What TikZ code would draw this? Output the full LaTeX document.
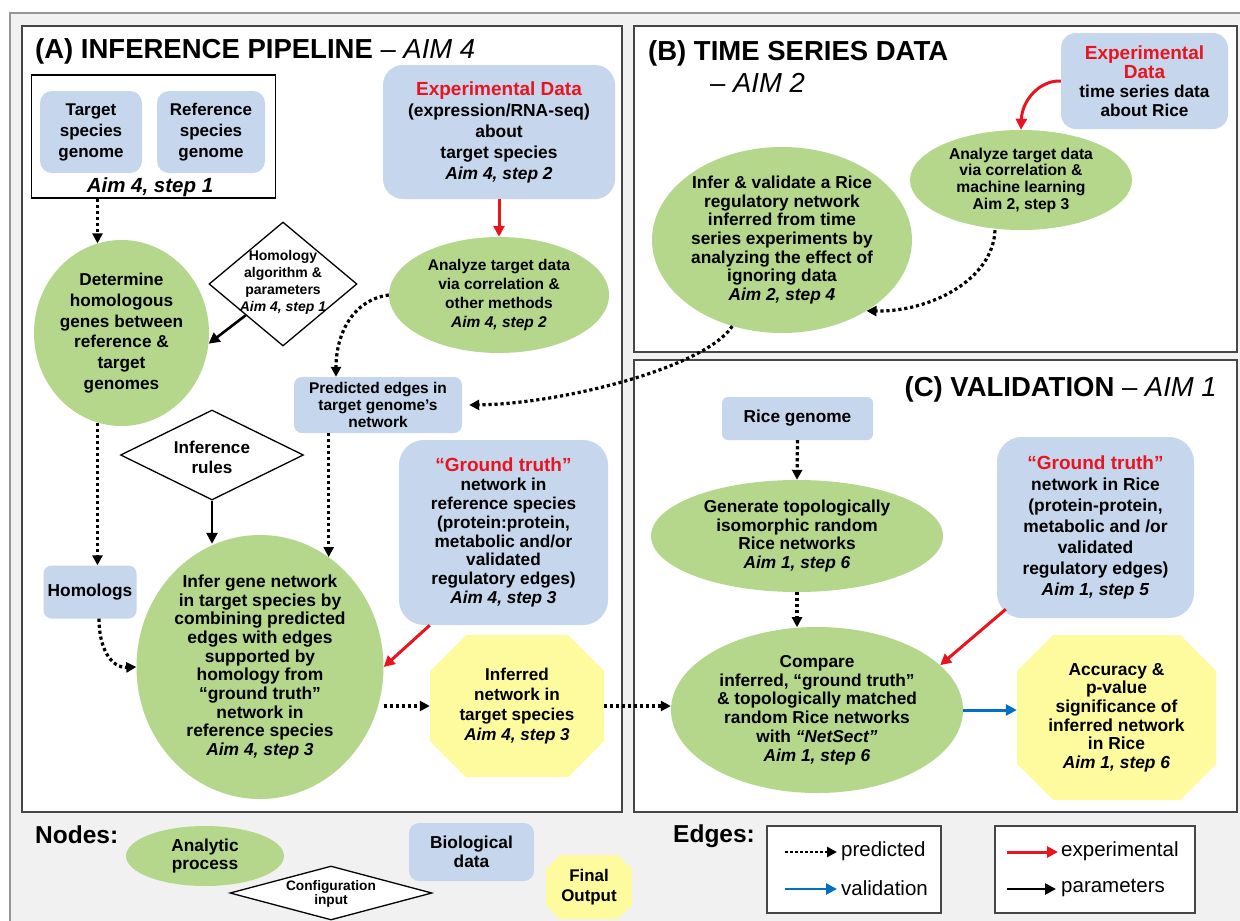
\documentclass[tikz,border=0pt]{standalone}
\usepackage{fontspec}
\setmainfont{Liberation Sans}
\usetikzlibrary{shapes.geometric,arrows.meta}
\definecolor{greenF}{RGB}{181,215,140}
\definecolor{blueF}{RGB}{198,214,236}
\definecolor{yellowF}{RGB}{253,251,158}
\definecolor{redT}{RGB}{232,20,30}
\definecolor{blueA}{RGB}{0,112,192}
\definecolor{bgG}{RGB}{241,241,241}
\definecolor{frameG}{RGB}{150,150,150}
\definecolor{panelC}{RGB}{70,70,70}
\newcommand\fs[2]{\fontsize{#1}{#2}\selectfont}
\newcommand\octo[5]{\fill[yellowF] (#1-#3+#5,#2-#4) -- (#1+#3-#5,#2-#4) -- (#1+#3,#2-#4+#5) -- (#1+#3,#2+#4-#5) -- (#1+#3-#5,#2+#4) -- (#1-#3+#5,#2+#4) -- (#1-#3,#2+#4-#5) -- (#1-#3,#2-#4+#5) -- cycle;}
\tikzset{
 txt/.style={font=\bfseries\fs{17.3}{18.7}, align=center, inner sep=0pt},
 proc/.style={ellipse, fill=greenF, txt},
 bio/.style={rectangle, fill=blueF, txt},
 cfg/.style={diamond, draw=black, fill=white, line width=1.3pt, inner sep=0pt},
 outp/.style={rectangle, txt},
 panel/.style={draw=panelC, fill=white, line width=1.6pt},
 pred/.style={line width=3.2pt, dash pattern=on 3.2pt off 2.8pt, -{Triangle[length=10pt,width=10pt]}},
 expt/.style={color=redT, line width=3pt, -{Triangle[length=11pt,width=11pt]}},
 param/.style={line width=2.6pt, -{Triangle[length=11pt,width=11pt]}},
 valid/.style={color=blueA, line width=3pt, -{Triangle[length=11pt,width=11pt]}},
 ttl/.style={font=\bfseries\fs{27.5}{30}, inner sep=0pt},
 leg/.style={font=\fs{20.5}{22}, inner sep=0pt},
}
\begin{document}
\begin{tikzpicture}[x=1pt,y=-1pt]
\useasboundingbox (0,0) rectangle (1240,921);
\fill[white] (0,0) rectangle (1240,921);
\fill[bgG] (10,13) rectangle (1250,935);
\draw[frameG, line width=1.5pt] (10,13) rectangle (1250,935);
% panels
\draw[panel] (22,26) rectangle (622,812);
\draw[panel] (634,26) rectangle (1237,352);
\draw[panel] (634,360) rectangle (1237,812);
% titles
\node[ttl, anchor=base west] (titA) at (35,58) {(A) INFERENCE PIPELINE {\mdseries – \itshape AIM 4}};
\node[ttl, anchor=base west] (titB) at (648,60) {(B) TIME SERIES DATA};
\node[ttl, anchor=base west] (titB2) at (710,92) {\mdseries – \itshape AIM 2};
\node[ttl, anchor=base east] (titC) at (1217,396) {(C) VALIDATION {\mdseries – \itshape AIM 1}};
% ---------- panel A
\node[draw=black, line width=1.6pt, minimum width=244pt, minimum height=123pt, inner sep=0pt] (genbox) at (153.5,136.5) {};
\node[bio, rounded corners=12pt, minimum width=102pt, minimum height=82pt, font=\bfseries\fs{17}{21}] (target) at (91,132) {Target\\species\\genome};
\node[bio, rounded corners=12pt, minimum width=108pt, minimum height=82pt, font=\bfseries\fs{17}{21}] (refsp) at (211,132) {Reference\\species\\genome};
\node[txt, font=\bfseries\itshape\fs{20.5}{22}] (genlab) at (150,187) {Aim 4, step 1};
\node[bio, rounded corners=20pt, minimum width=232pt, minimum height=134pt, font=\bfseries\fs{17.4}{21}] (expA) at (499,132) {{\fs{19}{21}\color{redT}Experimental Data}\\(expression/RNA-seq)\\about\\target species\\\textit{Aim 4, step 2}};
\node[proc, minimum width=220pt, minimum height=116pt, font=\bfseries\fs{15.5}{18.7}] (anaA) at (499,295) {Analyze target data\\via correlation \&\\other methods\\\textit{Aim 4, step 2}};
\node[proc, minimum width=175pt, minimum height=186pt, font=\bfseries\fs{17.2}{20.8}] (detA) at (121.5,333) {Determine\\homologous\\genes between\\reference \&\\target\\genomes};
\node[cfg, minimum width=148pt, minimum height=124pt] (homol) at (283,284) {};
\node[txt, font=\bfseries\fs{14}{17}] (homolT) at (283,282) {Homology\\algorithm \&\\parameters\\\textit{Aim 4, step 1}};
\node[bio, rounded corners=8pt, minimum width=168pt, minimum height=56pt, font=\bfseries\fs{15.5}{16.7}] (pred) at (378,405) {Predicted edges in\\target genome’s\\network};
\node[cfg, minimum width=183pt, minimum height=90pt] (infr) at (212,455) {};
\node[txt, font=\bfseries\fs{17.1}{20}] (infrT) at (212,457) {Inference\\rules};
\node[bio, rounded corners=8pt, minimum width=93pt, minimum height=53pt] (homologs) at (90,592) {Homologs};
\node[bio, rounded corners=25pt, minimum width=209pt, minimum height=185pt, font=\bfseries\fs{17.2}{18.8}] (gtA) at (503.5,532.5) {{\fs{19}{18.8}\color{redT}“Ground truth”}\\network in\\reference species\\(protein:protein,\\metabolic and/or\\validated\\regulatory edges)\\\textit{Aim 4, step 3}};
\node[proc, minimum width=247pt, minimum height=264pt, font=\bfseries\fs{17.4}{18.7}] (inferA) at (260,667) {Infer gene network\\in target species by\\combining predicted\\edges with edges\\supported by\\homology from\\“ground truth”\\network in\\reference species\\\textit{Aim 4, step 3}};
\octo{517}{706}{87}{71}{36}
\node[outp, minimum width=174pt, minimum height=142pt, font=\bfseries\fs{17.1}{20}] (octA) at (517,706) {Inferred\\network in\\target species\\\textit{Aim 4, step 3}};
% ---------- panel B
\node[bio, rounded corners=15pt, minimum width=167pt, minimum height=96pt, font=\bfseries\fs{17.2}{19}] (expB) at (1144.5,81) {{\fs{19}{19}\color{redT}Experimental}\\{\fs{19}{19}\color{redT}Data}\\time series data\\about Rice};
\node[proc, minimum width=222pt, minimum height=100pt, font=\bfseries\fs{15.7}{16.7}] (anaB) at (1021,180) {Analyze target data\\via correlation \&\\machine learning\\Aim 2, step 3};
\node[proc, minimum width=260pt, minimum height=186pt] (inferB) at (782,240) {Infer \& validate a Rice\\regulatory network\\inferred from time\\series experiments by\\analyzing the effect of\\ignoring data\\\textit{Aim 2, step 4}};
% ---------- panel C
\node[bio, rounded corners=6pt, minimum width=151pt, minimum height=43pt] (rice) at (797.5,418.5) {Rice genome};
\node[proc, minimum width=292pt, minimum height=112pt] (genC) at (797,536) {Generate topologically\\isomorphic random\\Rice networks\\\textit{Aim 1, step 6}};
\node[bio, rounded corners=25pt, minimum width=197pt, minimum height=181pt, font=\bfseries\fs{17.4}{21}] (gtC) at (1095.5,527.5) {{\fs{19}{21}\color{redT}“Ground truth”}\\network in Rice\\(protein-protein,\\metabolic and /or\\validated\\regulatory edges)\\\textit{Aim 1, step 5}};
\node[proc, minimum width=292pt, minimum height=166pt] (cmpC) at (817,710) {Compare\\inferred, “ground truth”\\\& topologically matched\\random Rice networks\\with \textit{“NetSect”}\\\textit{Aim 1, step 6}};
\octo{1116.5}{717.5}{99.5}{82.5}{36}
\node[outp, minimum width=199pt, minimum height=165pt, font=\bfseries\fs{17.4}{18.6}] (octC) at (1116.5,717.5) {Accuracy \&\\p-value\\significance of\\inferred network\\in Rice\\\textit{Aim 1, step 6}};
% ---------- connectors
\draw[pred] (genbox.south -| detA.105) -- (detA.105);
\draw[param] (homol.south west) -- (detA.-7);
\draw[expt] (expA.south) -- (anaA.north);
\draw[pred] (anaA.west) .. controls (352,300) and (336,335) .. ([xshift=-42pt]pred.north);
\draw[pred] (pred.south -| inferA.58) -- (inferA.58);
\draw[param] (infr.south) -- (infr.south |- inferA.110);
\draw[pred] (detA.255) -- (detA.255 |- homologs.north);
\draw[pred] ([xshift=9pt]homologs.south) .. controls (99,650) and (112,668) .. (inferA.west);
\draw[expt] ([xshift=31pt]gtA.south west) -- (inferA.east);
\draw[pred] (octA.west -| inferA.east) -- (octA.west);
\draw[pred] (octA.east) -- (octA.east -| cmpC.west);
\draw[expt] (expB.west) .. controls (1040,80) and (1022,100) .. (anaB.north);
\draw[pred] ([xshift=-26pt]anaB.south) .. controls (993,280) and (930,312) .. (inferB.-40);
\draw[pred] (inferB.-120) .. controls (705,368) and (560,404) .. ([xshift=7pt]pred.east);
\draw[pred] (rice.south) -- (genC.north);
\draw[pred] (genC.south) -- (genC.south |- cmpC.100);
\draw[expt] ([xshift=9pt,yshift=9pt]gtC.south west) -- (cmpC.20);
\draw[valid] (cmpC.east) -- (cmpC.east -| octC.west);
% ---------- legend
\node[anchor=base west, font=\bfseries\fs{24.5}{26}, inner sep=0pt] (nodesL) at (35,843) {Nodes:};
\node[proc, minimum width=158pt, minimum height=60pt] (anaL) at (205,856) {Analytic\\process};
\node[cfg, minimum width=202pt, minimum height=54pt] (cfgL) at (331,893) {};
\node[txt, font=\bfseries\fs{13.7}{14}] (cfgT) at (331,894) {Configuration\\input};
\node[bio, rounded corners=10pt, minimum width=125pt, minimum height=58pt] (bioL) at (471.5,852) {Biological\\data};
\octo{589}{887}{43}{32}{14}
\node[outp, minimum width=86pt, minimum height=64pt, font=\bfseries\fs{16.9}{20}] (finL) at (589,887) {Final\\Output};
\node[anchor=base west, font=\bfseries\fs{24.5}{26}, inner sep=0pt] (edgesL) at (673,842) {Edges:};
\node[draw=panelC, fill=white, line width=1.4pt, minimum width=174pt, minimum height=87pt, inner sep=0pt] (lbox1) at (854,869.5) {};
\node[draw=panelC, fill=white, line width=1.4pt, minimum width=200pt, minimum height=87pt, inner sep=0pt] (lbox2) at (1095,869.5) {};
\coordinate (lp1) at (785,852); \coordinate (lp2) at (837,852);
\coordinate (lv1) at (785,889); \coordinate (lv2) at (837,889);
\coordinate (le1) at (1007,852); \coordinate (le2) at (1058,852);
\coordinate (lr1) at (1007,889); \coordinate (lr2) at (1056,889);
\draw[pred, line width=2.6pt, dash pattern=on 2.6pt off 2.4pt] (lp1) -- (lp2);
\draw[valid, line width=2.6pt] (lv1) -- (lv2);
\draw[expt] (le1) -- (le2);
\draw[param] (lr1) -- (lr2);
\node[leg, anchor=west] (lpT) at (841,851) {predicted};
\node[leg, anchor=west] (lvT) at (841,888) {validation};
\node[leg, anchor=west] (leT) at (1061,851) {experimental};
\node[leg, anchor=west] (lrT) at (1061,888) {parameters};
\end{tikzpicture}
\end{document}
